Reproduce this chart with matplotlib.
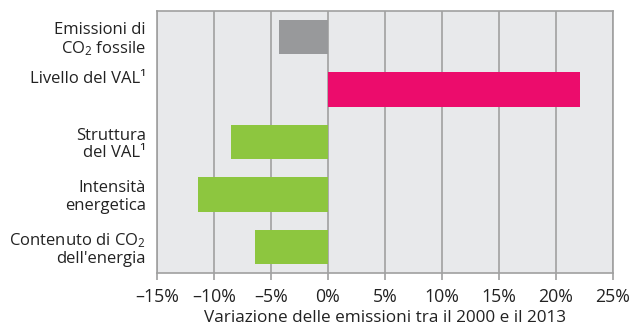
import matplotlib
matplotlib.use("Agg")
import matplotlib.pyplot as plt
import matplotlib.transforms as mtransforms

plt.rcParams['font.family'] = ['Open Sans', 'DejaVu Sans']
plt.rcParams['mathtext.fontset'] = 'custom'
plt.rcParams['mathtext.rm'] = 'Open Sans'
plt.rcParams['mathtext.default'] = 'regular'

categories = ["Emissioni di\nCO$_2$ fossile", "Livello del VAL\u00b9",
              "Struttura\ndel VAL\u00b9", "Intensità\nenergetica",
              "Contenuto di CO$_2$\ndell'energia"]
values = [-4.3, 22.1, -8.5, -11.4, -6.4]
colors = ["#98999b", "#ec0c6c", "#8dc63f", "#8dc63f", "#8dc63f"]
xticks = [-15, -10, -5, 0, 5, 10, 15, 20, 25]
xlabel = "Variazione delle emissioni tra il 2000 e il 2013"

fig = plt.figure(figsize=(6.31, 3.29), dpi=100)
ax = fig.add_axes([157/631, 1 - 273/329, (613-157)/631, (273-11)/329])
ax.set_facecolor("#e8e9eb")

pos = list(range(len(categories)))
ax.barh(pos, values, height=0.66, color=colors, zorder=3)
ax.set_ylim(len(categories) - 0.5, -0.5)
ax.set_xlim(-15, 25)
ax.set_xticks(xticks)
ax.set_xticklabels([("\u2013%d%%" % -t) if t < 0 else ("%d%%" % t) for t in xticks], fontsize=12.8, color="#222222")
ax.set_yticks(pos)
ax.set_yticklabels(categories, fontsize=12, color="#222222", linespacing=1.1)
ax.tick_params(axis='y', length=0, pad=8)
ax.tick_params(axis='x', length=5, color="#a0a0a0", width=1.2, pad=6)
ax.grid(axis='x', color="#a0a0a0", linewidth=1.2, zorder=1)
for s in ax.spines.values():
    s.set_color("#a0a0a0")
    s.set_linewidth(1.2)
ax.set_xlabel(xlabel, fontsize=12.3, color="#222222", labelpad=3)

# the "Livello" label sits a little above its bar in the original
lbl = ax.get_yticklabels()[1]
lbl.set_transform(lbl.get_transform() + mtransforms.ScaledTranslation(0, 9/72, fig.dpi_scale_trans))

fig.savefig("out.png", dpi=100)
